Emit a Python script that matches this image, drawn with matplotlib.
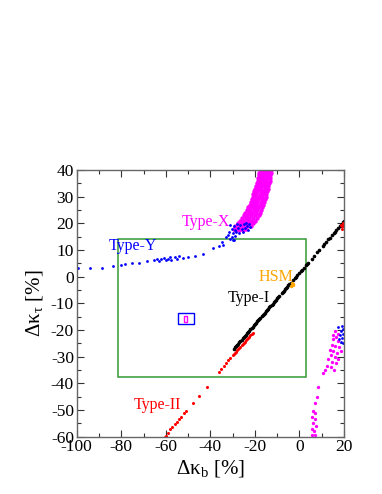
import matplotlib
matplotlib.use("Agg")
import matplotlib.pyplot as plt
from matplotlib.patches import Rectangle
from matplotlib.ticker import MultipleLocator

plt.rcParams["font.family"] = ["Liberation Serif", "DejaVu Serif"]
plt.rcParams["mathtext.fontset"] = "custom"
plt.rcParams["mathtext.rm"] = "Liberation Serif"
plt.rcParams["mathtext.it"] = "Liberation Serif:italic"
plt.rcParams["axes.unicode_minus"] = False

# Type-X (magenta) upper band, rows of constant dk_tau
typex_rows = {
    40: [-17.8, -16.5, -15.2, -13.9, -12.6],
    39: [-18.0, -16.7, -15.4, -14.1, -12.8],
    38: [-18.2, -16.9, -15.6, -14.3, -13.0],
    37: [-18.5, -17.2, -15.9, -14.6, -13.2],
    36: [-18.8, -17.5, -16.2, -14.9, -13.4],
    35: [-19.2, -17.8, -16.4, -15.0, -13.6],
    34: [-19.5, -18.1, -16.7, -15.3, -13.9],
    33: [-19.9, -18.5, -17.1, -15.6, -14.2],
    32: [-20.3, -18.9, -17.4, -15.9, -14.5],
    31: [-20.7, -19.3, -17.8, -16.3, -14.8],
    30: [-21.0, -19.6, -18.1, -16.6, -15.1],
    29: [-21.4, -20.0, -18.5, -17.0, -15.3],
    28: [-21.9, -20.4, -18.9, -17.4, -15.8],
    27: [-22.4, -20.9, -19.4, -17.9, -16.3],
    26: [-23.0, -21.5, -19.9, -18.4, -16.8],
    25: [-23.6, -22.1, -20.5, -18.9, -17.2],
    24: [-24.3, -22.7, -21.1, -19.5, -17.7],
    23: [-25.0, -23.4, -21.8, -20.1, -18.3],
    22: [-25.8, -24.2, -22.5, -20.8, -19.0],
    21: [-26.7, -25.0, -23.3, -21.6, -19.8],
    20: [-27.7, -26.0, -24.2, -22.5, -20.7],
    19: [-28.8, -27.0, -25.2, -23.4, -21.6],
    18: [-29.6, -27.8, -26.0, -24.2],
    17.3: [-29.0, -27.2, -25.4],
}
typex_low_x = [16.0, 17.5, 15.0, 15.0, 16.5, 17.5, 14.5, 16.0, 17.8, 13.5, 15.2, 16.8,
               18.5, 14.0, 15.8, 17.2, 13.0, 14.8, 16.3, 12.5, 14.2, 15.5, 11.5, 10.4,
               8.4, 7.7, 7.0, 6.2, 7.2, 5.8, 6.8, 6.0, 7.3, 5.5, 6.5, 5.8, 7.0]
typex_low_y = [-20.5, -21.5, -22.0, -23.5, -22.5, -24.0, -25.5, -26.0, -26.5, -27.5, -28.0, -28.5,
               -27.8, -29.5, -30.0, -30.8, -31.0, -32.0, -32.5, -33.5, -34.0, -35.0, -35.0, -36.0,
               -41.5, -45.2, -47.5, -50.2, -51.0, -52.5, -53.5, -55.0, -56.0, -57.0, -58.0, -59.3, -59.5]

# Type-Y (blue)
typey_x = [-99.3, -94.0, -88.8, -83.6, -80.0, -78.3, -75.3, -72.0, -68.6, -65.5, -64.0, -63.0,
           -62.0, -61.0, -60.0, -59.0, -58.0, -57.5, -56.0, -55.0, -54.0, -52.2, -50.0, -46.9,
           -43.2, -38.7, -36.0, -34.2, -34.9, -29.7,
           -31.0, -29.5, -28.0, -26.5, -25.0, -23.5, -22.0, -30.5, -29.0, -27.5, -26.0, -24.5,
           -23.0, -31.5, -30.0, -28.5, -27.0, -25.5, -32.0, -30.5, -29.0, -31.0, -29.5, -33.0,
           -22.5, -24.0,
           17.5, 18.5, 19.5, 18.0, 19.0, 19.7, 18.8, 19.6, 17.8, 19.2]
typey_y = [3.1, 3.4, 3.1, 4.0, 4.2, 4.6, 5.0, 5.2, 5.9, 6.2, 6.8, 5.8,
           6.5, 7.0, 6.2, 6.8, 7.2, 6.4, 7.4, 6.8, 7.6, 7.1, 7.5, 7.9,
           8.4, 10.6, 11.3, 11.9, 13.1, 13.8,
           19.5, 19.0, 19.8, 19.2, 19.6, 19.0, 18.6, 18.0, 17.6, 18.3, 17.8, 18.2,
           17.5, 16.8, 16.3, 16.9, 16.2, 16.6, 15.5, 15.0, 15.4, 14.2, 13.8, 14.8,
           19.8, 20.2,
           -19.0, -20.5, -19.5, -22.0, -23.0, -21.5, -24.5, -25.0, -23.5, -18.5]

# Type-I (black)
typei_x = [-29.5, -29.0, -28.5, -28.0, -27.5, -27.0, -26.5, -26.0, -25.5, -25.0, -24.5, -24.0,
           -23.5, -23.0, -22.5, -22.0, -21.5, -21.0, -20.5, -20.0, -19.5, -19.0, -18.5, -18.0,
           -17.5, -17.0, -16.5, -16.0, -15.5, -15.0, -14.5, -14.0, -13.5, -13.0, -12.5, -12.0,
           -11.5, -11.0, -10.5, -10.0, -9.5, -9.0, -8.0, -7.5, -7.0, -6.5, -6.0, -5.5,
           -5.0, -4.5, -4.0, -3.0, -2.0, -1.5, -1.0, 0.0, 0.5, 1.0, 2.0, 3.0,
           3.5, 4.0, 5.5, 6.5, 8.0, 9.0, 10.5, 11.0, 12.0, 13.0, 13.5, 14.5,
           15.5, 16.0, 16.5, 17.5, 18.0, 18.5, 19.0, 19.5, 20.0]
typei_y = [-27.0, -26.5, -26.0, -25.6, -25.1, -24.6, -24.1, -23.6, -23.1, -22.7, -22.2, -21.7,
           -21.2, -20.7, -20.3, -19.8, -19.3, -18.8, -18.3, -17.8, -17.3, -16.8, -16.4, -15.9,
           -15.4, -14.9, -14.4, -13.9, -13.5, -13.0, -12.5, -12.0, -11.5, -11.0, -10.6, -10.1,
           -9.6, -9.1, -8.6, -8.1, -7.7, -7.2, -6.2, -5.8, -5.3, -4.8, -4.3, -3.8,
           -3.3, -2.9, -2.4, -1.4, -0.4, 0.0, 0.5, 1.5, 2.0, 2.4, 3.4, 4.4,
           4.8, 5.3, 6.8, 7.7, 9.2, 10.1, 11.6, 12.1, 13.0, 14.0, 14.5, 15.5,
           16.4, 16.9, 17.4, 18.4, 18.9, 19.3, 19.8, 20.3, 20.8]

# Type-II (red)
typeii_x = [-36.0, -35.0, -34.0, -33.0, -32.0, -31.0, -30.0, -29.5, -29.0, -28.5, -28.0, -27.5,
            -27.0, -26.5, -26.0, -25.5, -25.0, -24.5, -24.0, -23.5, -23.0, -22.5, -22.0, -21.5,
            -21.0,
            -41.7, -45.0, -47.9, -50.9, -51.8, -53.0, -54.0, -55.0, -56.0, -57.0, -58.0, -59.0,
            -60.0, -60.5,
            18.5, 19.2, 19.7, 19.0, 19.6]
typeii_y = [-35.6, -34.5, -33.4, -32.5, -31.4, -30.6, -29.5, -29.1, -28.6, -28.1, -27.6, -27.2,
            -26.7, -26.3, -25.8, -25.3, -24.8, -24.4, -23.9, -23.5, -23.0, -22.5, -22.0, -21.6,
            -21.2,
            -41.3, -44.8, -47.5, -50.4, -51.2, -52.5, -53.3, -54.4, -55.4, -56.4, -57.3, -58.5,
            -59.6, -60.0,
            19.5, 18.8, 20.0, 18.0, 19.0]

# HSM (orange)
hsm_x = [-3.5, -3.0, -4.0, -3.2, -2.8]
hsm_y = [-3.1, -2.6, -3.5, -2.2, -3.0]

# boxes: (x0, x1, y0, y1)
green_box = (-81.3, 2.9, -37.7, 14.2)
blue_box = (-54.7, -47.4, -17.7, -13.7)
magenta_box = (-52.0, -50.6, -17.0, -14.8)

fig = plt.figure(figsize=(3.82, 4.94), dpi=100)
ax = fig.add_axes([0.2008, 0.116, 0.6997, 0.540])

tx_x = [x for y, xs in typex_rows.items() for x in xs]
tx_y = [y for y, xs in typex_rows.items() for x in xs]

mk = dict(marker="o", linestyle="none", markeredgewidth=0)
ax.plot(tx_x, tx_y, color="#ff00ff", markersize=3.2, **mk)
ax.plot(typex_low_x, typex_low_y, color="#ff00ff", markersize=2.4, **mk)
ax.plot(typey_x, typey_y, color="#0000ff", markersize=2.0, **mk)
ax.plot(typei_x, typei_y, color="black", markersize=2.6, **mk)
ax.plot(typeii_x, typeii_y, color="#ff0000", markersize=2.2, **mk)
ax.plot(hsm_x, hsm_y, color="#ffa500", markersize=2.4, **mk)

for (x0, x1, y0, y1), col, lw in [(green_box, "#339933", 1.1),
                                   (blue_box, "#0000ff", 1.0),
                                   (magenta_box, "#ff00ff", 1.0)]:
    ax.add_patch(Rectangle((x0, y0), x1 - x0, y1 - y0, fill=False,
                           edgecolor=col, linewidth=lw))

ax.text(-52.9, 20.6, "Type-X", color="#ff00ff", fontsize=11.5, ha="left", va="center")
ax.text(-85.8, 11.3, "Type-Y", color="#0000ff", fontsize=11.5, ha="left", va="center")
ax.text(-18.5, -0.3, "HSM", color="#ffa500", fontsize=11.5, ha="left", va="center")
ax.text(-32.0, -8.1, "Type-I", color="black", fontsize=11.5, ha="left", va="center")
ax.text(-74.6, -48.1, "Type-II", color="#ff0000", fontsize=11.5, ha="left", va="center")

ax.set_xlim(-100, 20)
ax.set_ylim(-60, 40)
ax.xaxis.set_major_locator(MultipleLocator(20))
ax.xaxis.set_minor_locator(MultipleLocator(10))
ax.yaxis.set_major_locator(MultipleLocator(10))
ax.yaxis.set_minor_locator(MultipleLocator(5))
ax.tick_params(which="both", direction="in", top=True, right=True, labelsize=12.5,
               color="#333333", pad=2)
ax.tick_params(which="major", length=5, width=0.8)
ax.tick_params(which="minor", length=3, width=0.8)
for sp in ax.spines.values():
    sp.set_color("#666666")
    sp.set_linewidth(1.0)

ax.set_xlabel("Δκ$_\\mathrm{b}$ [%]", fontsize=15, labelpad=2)
ax.set_ylabel("Δκ$_\\mathrm{τ}$ [%]", fontsize=15, labelpad=4)

fig.savefig("out.png", dpi=100)
